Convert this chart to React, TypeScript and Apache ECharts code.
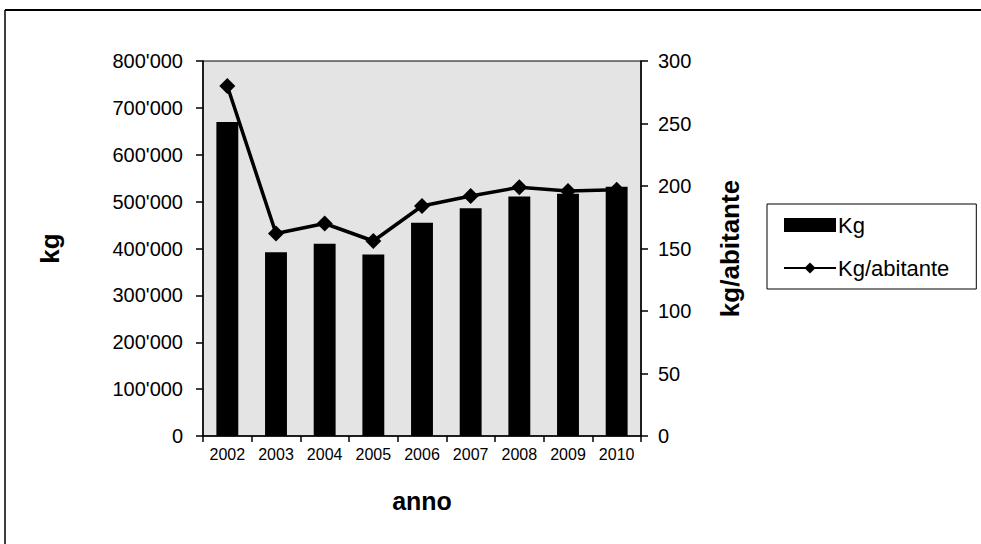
import React, { useEffect, useRef } from "react";
import * as echarts from "echarts";

const years = ["2002", "2003", "2004", "2005", "2006", "2007", "2008", "2009", "2010"];
const kgValues = [670000, 392000, 410000, 387000, 455000, 486000, 511000, 517000, 532000];
const kgPerInhabitant = [280, 162, 170, 156, 184, 192, 199, 196, 197];

const FONT = "'Liberation Sans', Arial, sans-serif";

function fmtThousands(v: number): string {
  return String(v).replace(/\B(?=(\d{3})+(?!\d))/g, "'");
}

export default function App() {
  const ref = useRef<HTMLDivElement>(null);

  useEffect(() => {
    document.body.style.margin = "0";
    document.body.style.overflow = "hidden";
    if (!ref.current) return;
    const chart = echarts.init(ref.current, undefined, { renderer: "svg" });
    chart.setOption({
      animation: false,
      backgroundColor: "#ffffff",
      textStyle: { fontFamily: FONT, color: "#000" },
      grid: {
        left: 203,
        right: 340,
        top: 61,
        bottom: 108,
        show: true,
        backgroundColor: "#e4e4e4",
        borderColor: "#000",
        borderWidth: 1,
      },
      legend: {
        orient: "vertical",
        left: 767,
        top: 204,
        padding: [10, 27, 10, 16],
        itemGap: 21,
        itemWidth: 52,
        itemHeight: 14,
        borderColor: "#000",
        borderWidth: 1,
        backgroundColor: "#fff",
        textStyle: { fontFamily: FONT, fontSize: 22, color: "#000", padding: [0, 0, 0, -3] },
        data: [
          { name: "Kg", icon: "rect" },
          { name: "Kg/abitante" },
        ],
      },
      xAxis: {
        type: "category",
        data: years,
        name: "anno",
        nameLocation: "middle",
        nameGap: 52,
        nameTextStyle: { fontFamily: FONT, fontSize: 25, fontWeight: "bold", color: "#000" },
        axisLine: { lineStyle: { color: "#000", width: 1.5 } },
        axisTick: { show: true, interval: 0, length: 6, lineStyle: { color: "#000", width: 1.5 } },
        axisLabel: { fontFamily: FONT, fontSize: 16, color: "#000", margin: 10, interval: 0 },
      },
      yAxis: [
        {
          type: "value",
          min: 0,
          max: 800000,
          interval: 100000,
          name: "kg",
          nameLocation: "middle",
          nameRotate: 90,
          nameGap: 140,
          nameTextStyle: { fontFamily: FONT, fontSize: 26, fontWeight: "bold", color: "#000" },
          axisLine: { show: true, lineStyle: { color: "#000", width: 1.5 } },
          axisTick: { show: true, length: 7, lineStyle: { color: "#000", width: 1.5 } },
          axisLabel: {
            fontFamily: FONT,
            fontSize: 20,
            color: "#000",
            margin: 20,
            formatter: (v: number) => fmtThousands(v),
          },
          splitLine: { show: false },
        },
        {
          type: "value",
          min: 0,
          max: 300,
          interval: 50,
          position: "right",
          name: "kg/abitante",
          nameLocation: "middle",
          nameRotate: 90,
          nameGap: 76,
          nameTextStyle: { fontFamily: FONT, fontSize: 26, fontWeight: "bold", color: "#000" },
          axisLine: { show: true, lineStyle: { color: "#000", width: 1.5 } },
          axisTick: { show: true, length: 7, lineStyle: { color: "#000", width: 1.5 } },
          axisLabel: { fontFamily: FONT, fontSize: 20, color: "#000", margin: 17 },
          splitLine: { show: false },
        },
      ],
      series: [
        {
          name: "Kg",
          type: "bar",
          yAxisIndex: 0,
          data: kgValues,
          barWidth: "45%",
          itemStyle: { color: "#000" },
        },
        {
          name: "Kg/abitante",
          type: "line",
          yAxisIndex: 1,
          data: kgPerInhabitant,
          symbol: "diamond",
          symbolSize: 16,
          lineStyle: { color: "#000", width: 3.5 },
          itemStyle: { color: "#000" },
        },
      ],
      graphic: [
        {
          type: "line",
          shape: { x1: 5, y1: 10, x2: 981, y2: 10 },
          style: { stroke: "#000", lineWidth: 2 },
          silent: true,
        },
        {
          type: "line",
          shape: { x1: 5, y1: 10, x2: 5, y2: 544 },
          style: { stroke: "#000", lineWidth: 1.5 },
          silent: true,
        },
      ],
    });
    return () => chart.dispose();
  }, []);

  return (
    <div
      ref={ref}
      style={{ position: "absolute", left: 0, top: 0, width: 981, height: 544 }}
    />
  );
}
